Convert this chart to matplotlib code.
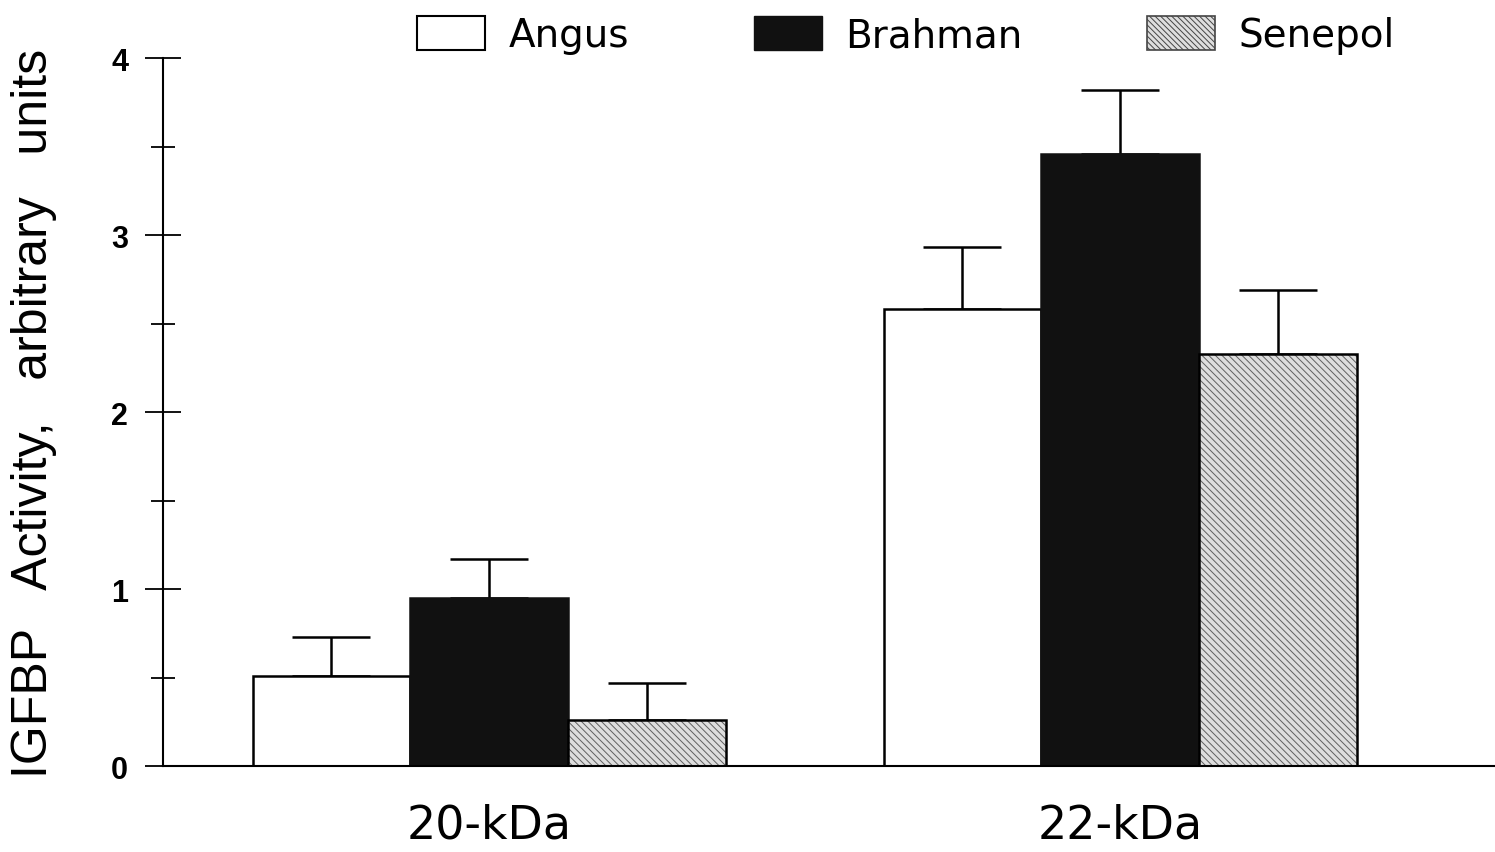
import matplotlib.pyplot as plt
import matplotlib.patches as mpatches
import numpy as np

plt.rcParams["font.family"] = ["Liberation Sans", "DejaVu Sans"]
plt.rcParams["hatch.linewidth"] = 0.7

# data
groups = ["20-kDa", "22-kDa"]
breeds = ["Angus", "Brahman", "Senepol"]
angus = [0.51, 2.58]
brahman = [0.95, 3.46]
senepol = [0.26, 2.33]
angus_se = [0.22, 0.35]
brahman_se = [0.22, 0.36]
senepol_se = [0.21, 0.36]

fig = plt.figure(figsize=(14.95, 8.53), dpi=100)
ax = fig.add_axes([0.109, 0.1008, 0.891, 0.83])

x = np.arange(len(groups))
w = 0.25

err_kw = dict(ecolor="black", elinewidth=1.8, capsize=28, capthick=1.8)

ax.bar(x - w, angus, w, color="white", edgecolor="black", linewidth=1.8, zorder=2)
ax.errorbar(x - w, angus, yerr=[np.zeros(2), angus_se], fmt="none", zorder=1, **err_kw)

ax.bar(x, brahman, w, color="#111111", edgecolor="#111111", linewidth=1.8, zorder=2)
ax.errorbar(x, brahman, yerr=[np.zeros(2), brahman_se], fmt="none", zorder=1, **err_kw)

# hatched bars: hatch in grey, outline drawn separately in black
ax.bar(x + w, senepol, w, color="#dedede", edgecolor="#606060", linewidth=0,
       hatch="\\\\\\\\\\", zorder=2)
ax.bar(x + w, senepol, w, fill=False, edgecolor="black", linewidth=1.8, zorder=3)
ax.errorbar(x + w, senepol, yerr=[np.zeros(2), senepol_se], fmt="none", zorder=1, **err_kw)

ax.set_xlim(-0.517, 1.594)
ax.set_ylim(0, 4)

for s in ["top", "right"]:
    ax.spines[s].set_visible(False)
ax.spines["left"].set_linewidth(1.5)
ax.spines["bottom"].set_linewidth(1.5)

ax.set_yticks([0, 1, 2, 3, 4])
ax.set_yticks([0.5, 1.5, 2.5, 3.5], minor=True)
ax.tick_params(axis="y", which="major", direction="inout", length=26, width=1.3,
               labelsize=22, pad=12)
ax.tick_params(axis="y", which="minor", direction="inout", length=17, width=1.3)
for t in ax.get_yticklabels():
    t.set_fontweight("bold")

ax.set_xticks(x)
ax.set_xticklabels(groups, fontsize=33, family="DejaVu Sans")
ax.tick_params(axis="x", length=0, pad=26)

ax.set_ylabel("IGFBP   Activity,   arbitrary   units", fontsize=36)
ax.yaxis.set_label_coords(-0.0796, 0.5)

# legend
h1 = mpatches.Patch(facecolor="white", edgecolor="black", linewidth=1.5, label=breeds[0])
h2 = mpatches.Patch(facecolor="#111111", edgecolor="#111111", label=breeds[1])
h3 = mpatches.Patch(facecolor="#dedede", edgecolor="#444444", hatch="\\\\\\\\\\\\",
                    linewidth=1.2, label=breeds[2])
fig.legend(handles=[h1, h2, h3], loc="upper center", bbox_to_anchor=(0.606, 1.012),
           ncol=3, frameon=False, prop={"family": "DejaVu Sans", "size": 28},
           handlelength=1.75, handleheight=0.95,
           handletextpad=0.6, columnspacing=3.2, borderaxespad=0.3)

fig.savefig("out.png", dpi=100)
